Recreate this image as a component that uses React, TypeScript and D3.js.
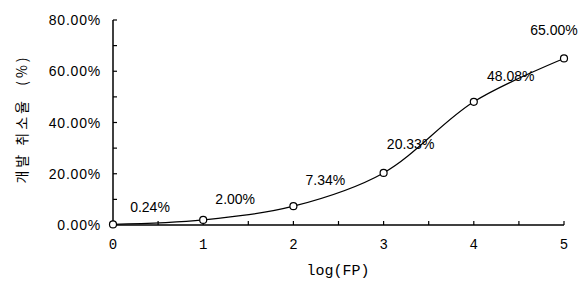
import React, { useEffect, useRef } from 'react';
import * as d3 from 'd3';

const logFP = [0, 1, 2, 3, 4, 5];
const cancelRate = [0.24, 2.0, 7.34, 20.33, 48.08, 65.0];
const pointLabels = ['0.24%', '2.00%', '7.34%', '20.33%', '48.08%', '65.00%'];
const yTicks = [0, 20, 40, 60, 80];
const yMinorTicks = [10, 30, 50, 70];
const xTicks = [0, 1, 2, 3, 4, 5];
const xMinorTicks = [0.5, 1.5, 2.5, 3.5, 4.5];
const yTitle = '개발 취소율  (%)';
const xTitle = 'log(FP)';

// label offsets relative to each point (dx, dy)
const labelOffsets = [
  [37, -12],
  [32, -16],
  [32, -21],
  [27, -24],
  [37, -21],
  [-10, -23],
];

const App = () => {
  const ref = useRef<SVGSVGElement>(null);

  useEffect(() => {
    const svg = d3.select(ref.current);
    svg.selectAll('*').remove();

    const font = "'Liberation Sans', Arial, sans-serif";
    const x = d3.scaleLinear().domain([0, 5]).range([113, 564]);
    const y = d3.scaleLinear().domain([0, 80]).range([225, 20]);

    const g = svg.append('g');

    // y axis
    g.append('line')
      .attr('x1', x(0)).attr('x2', x(0))
      .attr('y1', y(0)).attr('y2', y(80))
      .attr('stroke', '#000').attr('stroke-width', 1.5);
    g.selectAll('.ytick')
      .data(yTicks.concat(yMinorTicks))
      .enter().append('line')
      .attr('x1', x(0)).attr('x2', x(0) + 4)
      .attr('y1', d => y(d)).attr('y2', d => y(d))
      .attr('stroke', '#000').attr('stroke-width', 1.2);
    g.selectAll('.ylab')
      .data(yTicks)
      .enter().append('text')
      .attr('x', x(0) - 12)
      .attr('y', d => y(d) + 5)
      .attr('text-anchor', 'end')
      .attr('font-family', font)
      .attr('font-size', 14)
      .attr('letter-spacing', 0.8)
      .text(d => d3.format('.2f')(d) + '%');

    // x axis
    g.append('line')
      .attr('x1', x(0)).attr('x2', x(5))
      .attr('y1', y(0)).attr('y2', y(0))
      .attr('stroke', '#000').attr('stroke-width', 1.5);
    g.selectAll('.xtick')
      .data(xTicks.concat(xMinorTicks))
      .enter().append('line')
      .attr('x1', d => x(d)).attr('x2', d => x(d))
      .attr('y1', y(0)).attr('y2', y(0) - 4)
      .attr('stroke', '#000').attr('stroke-width', 1.2);
    g.selectAll('.xlab')
      .data(xTicks)
      .enter().append('text')
      .attr('x', d => x(d))
      .attr('y', y(0) + 24)
      .attr('text-anchor', 'middle')
      .attr('font-family', "'Liberation Mono', monospace")
      .attr('font-size', 14)
      .text(d => String(d));

    // titles
    g.append('text')
      .attr('x', 338).attr('y', 275)
      .attr('text-anchor', 'middle')
      .attr('font-family', "'Liberation Mono', monospace")
      .attr('font-size', 15)
      .text(xTitle);
    g.append('text')
      .attr('transform', 'translate(27,119) rotate(-90)')
      .attr('text-anchor', 'middle')
      .attr('font-family', "'Noto Sans CJK KR', sans-serif")
      .attr('font-size', 14)
      .attr('letter-spacing', 3)
      .attr('xml:space', 'preserve')
      .style('white-space', 'pre')
      .text(yTitle);

    const data = logFP.map((v, i) => ({ x: v, y: cancelRate[i], label: pointLabels[i] }));

    const line = d3.line<{ x: number; y: number }>()
      .x(d => x(d.x))
      .y(d => y(d.y))
      .curve(d3.curveCatmullRom.alpha(0.5));

    g.append('path')
      .datum(data)
      .attr('d', line)
      .attr('fill', 'none')
      .attr('stroke', '#000')
      .attr('stroke-width', 1.2);

    g.selectAll('.dot')
      .data(data)
      .enter().append('circle')
      .attr('cx', d => x(d.x))
      .attr('cy', d => y(d.y))
      .attr('r', 3.5)
      .attr('fill', '#fff')
      .attr('stroke', '#000')
      .attr('stroke-width', 1.2);

    g.selectAll('.plab')
      .data(data)
      .enter().append('text')
      .attr('x', (d, i) => x(d.x) + labelOffsets[i][0])
      .attr('y', (d, i) => y(d.y) + labelOffsets[i][1])
      .attr('text-anchor', 'middle')
      .attr('font-family', font)
      .attr('font-size', 14)
      .text(d => d.label);
  }, []);

  return <svg ref={ref} width={581} height={291} style={{ position: 'absolute', left: 0, top: 0 }} />;
};

export default App;
